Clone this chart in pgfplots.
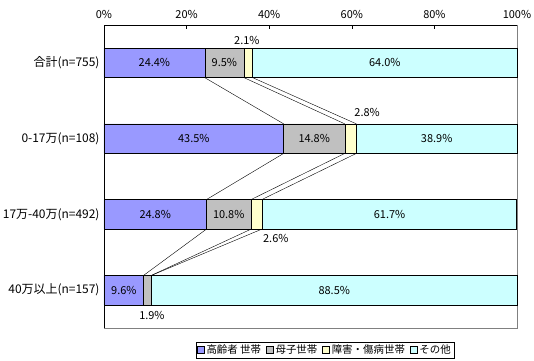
\documentclass[border=0pt]{standalone}
\usepackage{pgfplots}
\pgfplotsset{compat=1.18}
\usepackage{fontspec}
\setmainfont{Noto Sans CJK JP}
\definecolor{cA}{HTML}{9999FF}
\definecolor{cB}{HTML}{C0C0C0}
\definecolor{cC}{HTML}{FFFFCC}
\definecolor{cD}{HTML}{CCFFFF}
\begin{document}
\begin{tikzpicture}[font=\fontsize{11}{13}\selectfont]
\begin{axis}[
  scale only axis, width=413bp, height=303bp,
  xbar stacked, bar width=0.39,
  xmin=0, xmax=100, ymin=-0.5, ymax=3.5,
  xtick={0,20,40,60,80,100},
  xticklabels={0\%,20\%,40\%,60\%,80\%,100\%},
  xticklabel pos=right, xtick pos=right,
  ytick={0,1,2,3},
  yticklabels={40万以上(n=157),17万-40万(n=492),0-17万(n=108),合計(n=755)},
  ytick pos=left,
  y tick style={draw=none},
  extra y ticks={0.5,1.5,2.5},
  extra y tick labels={},
  extra y tick style={draw=black, tick align=outside, major tick length=3bp},
  tick align=inside, major tick length=4bp,
  every tick/.style={black},
  axis line style={draw=gray},
  tick label style={font=\fontsize{11}{13}\selectfont},
  xticklabel style={yshift=3bp},
  yticklabel style={xshift=-1bp, font=\fontsize{12}{14}\selectfont},
  legend style={at={(0.535,-0.073)}, anchor=center, legend columns=4,
    draw=black, font=\fontsize{10.5}{12}\selectfont, inner sep=1bp,
    /tikz/every even column/.append style={column sep=3bp}},
  legend image code/.code={\draw[#1, draw=black] (0bp,-3.5bp) rectangle (7bp,3.5bp);},
  clip=false,
]
\addplot[fill=cA, draw=black] coordinates {(24.4,3) (43.5,2) (24.8,1) (9.6,0)};
\addplot[fill=cB, draw=black] coordinates {(9.5,3) (14.8,2) (10.8,1) (1.9,0)};
\addplot[fill=cC, draw=black] coordinates {(2.1,3) (2.8,2) (2.6,1) (0,0)};
\addplot[fill=cD, draw=black] coordinates {(64.0,3) (38.9,2) (61.7,1) (88.5,0)};
\legend{高齢者 世帯,母子世帯,障害・傷病世帯,その他}
\end{axis}
\begin{axis}[
  scale only axis, width=413bp, height=303bp,
  xmin=0, xmax=100, ymin=-0.5, ymax=3.5,
  hide axis, clip=false,
]
\addplot[black, no marks] coordinates {(24.4,2.805) (43.5,2.195)};
\addplot[black, no marks] coordinates {(33.9,2.805) (58.3,2.195)};
\addplot[black, no marks] coordinates {(36.0,2.805) (61.1,2.195)};
\addplot[black, no marks] coordinates {(43.5,1.805) (24.8,1.195)};
\addplot[black, no marks] coordinates {(58.3,1.805) (35.6,1.195)};
\addplot[black, no marks] coordinates {(61.1,1.805) (38.2,1.195)};
\addplot[black, no marks] coordinates {(24.8,0.805) (9.6,0.195)};
\addplot[black, no marks] coordinates {(35.6,0.805) (11.5,0.195)};
\addplot[black, no marks] coordinates {(38.2,0.805) (11.5,0.195)};
\draw[black] (rel axis cs:0,0) -- (rel axis cs:0,1) -- (rel axis cs:1,1);
\node at (axis cs:12.2,3) {24.4\%};
\node at (axis cs:29.15,3) {9.5\%};
\node at (axis cs:68.0,3) {64.0\%};
\node at (axis cs:34.6,3.29) {2.1\%};
\node at (axis cs:21.75,2) {43.5\%};
\node at (axis cs:50.9,2) {14.8\%};
\node at (axis cs:80.55,2) {38.9\%};
\node at (axis cs:63.7,2.34) {2.8\%};
\node at (axis cs:12.4,1) {24.8\%};
\node at (axis cs:30.2,1) {10.8\%};
\node at (axis cs:69.15,1) {61.7\%};
\node at (axis cs:41.6,0.68) {2.6\%};
\node at (axis cs:4.8,0) {9.6\%};
\node at (axis cs:55.75,0) {88.5\%};
\node at (axis cs:11.6,-0.34) {1.9\%};
\end{axis}
\pgfresetboundingbox
\path[use as bounding box] (-104bp,-33bp) rectangle (430bp,328bp);
\end{tikzpicture}
\end{document}
